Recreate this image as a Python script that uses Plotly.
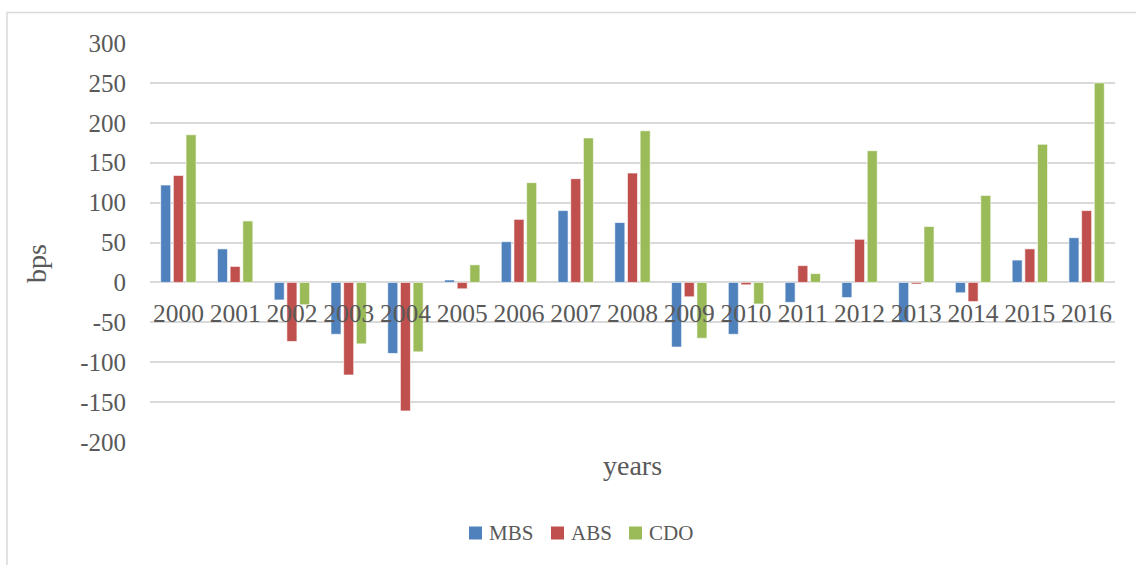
import plotly.graph_objects as go

# Spread changes by year (basis points)
years = [str(y) for y in range(2000, 2017)]
mbs = [122, 42, -22, -65, -89, 3, 51, 90, 75, -81, -65, -25, -19, -50, -13, 28, 56]
abs_ = [134, 20, -74, -116, -161, -8, 79, 130, 137, -18, -3, 21, 54, -2, -24, 42, 90]
cdo = [185, 77, -28, -77, -87, 22, 125, 181, 190, -70, -27, 11, 165, 70, 109, 173, 250]

series_names = ["MBS", "ABS", "CDO"]
series_colors = ["#4F81BD", "#C0504D", "#9BBB59"]
y_ticks = list(range(-200, 301, 50))
y_ticktext = [str(v) for v in y_ticks]  # plain hyphen for negatives

W, H = 1136, 565
M_L, M_R, M_T, M_B = 150, 21, 43, 123
plot_w = W - M_L - M_R
plot_h = H - M_T - M_B

text_color = "#595959"
grid_color = "#D9D9D9"
font_family = "Liberation Serif, Times New Roman, serif"


def px_x(px):
    """Pixel column -> paper x."""
    return (px - M_L) / plot_w


def px_y(px):
    """Pixel row -> paper y."""
    return ((H - M_B) - px) / plot_h


fig = go.Figure()
for name, vals, col in zip(series_names, [mbs, abs_, cdo], series_colors):
    fig.add_trace(go.Bar(
        x=years, y=vals, name=name, showlegend=False,
        marker=dict(color=col, line=dict(color="white", width=0.6)),
    ))

y_min, y_max = -200, 300
zero_frac = (0 - y_min) / (y_max - y_min)

fig.update_layout(
    width=W, height=H,
    margin=dict(l=M_L, r=M_R, t=M_T, b=M_B, autoexpand=False),
    paper_bgcolor="white", plot_bgcolor="white",
    barmode="group", bargap=0.33, bargroupgap=0.21,
    font=dict(family=font_family, color=text_color, size=25),
    xaxis=dict(
        type="category", anchor="free", position=zero_frac,
        showgrid=False, showline=False, automargin=False,
        ticks="outside", ticklen=8, tickcolor="rgba(0,0,0,0)",
        tickfont=dict(size=25.5, color=text_color),
    ),
    yaxis=dict(
        range=[y_min, y_max], tickvals=y_ticks, ticktext=y_ticktext,
        showgrid=True, gridcolor=grid_color, gridwidth=1.5,
        zeroline=True, zerolinecolor=grid_color, zerolinewidth=1.5,
        showline=False, automargin=False,
        ticks="outside", ticklen=18, tickcolor="rgba(0,0,0,0)",
        tickfont=dict(size=25, color=text_color),
    ),
    showlegend=False,
)

# Axis titles
fig.add_annotation(
    text="years", xref="paper", yref="paper",
    x=px_x(632), y=px_y(465),
    showarrow=False, font=dict(size=28, color=text_color),
    xanchor="center", yanchor="middle",
)
fig.add_annotation(
    text="bps", xref="paper", yref="paper",
    x=px_x(36), y=px_y(264),
    showarrow=False, textangle=-90, font=dict(size=28, color=text_color),
    xanchor="center", yanchor="middle",
)

# Legend row: colour swatch followed by series name
legend_swatch_left = [469, 551, 629]
legend_cy = 533
swatch = 13
for name, col, sx in zip(series_names, series_colors, legend_swatch_left):
    fig.add_shape(
        type="rect", xref="paper", yref="paper",
        x0=px_x(sx), x1=px_x(sx + swatch),
        y0=px_y(legend_cy + swatch / 2), y1=px_y(legend_cy - swatch / 2),
        line=dict(width=0), fillcolor=col,
    )
    fig.add_annotation(
        text=name, xref="paper", yref="paper",
        x=px_x(sx + swatch + 5), y=px_y(legend_cy),
        showarrow=False, font=dict(size=21, color=text_color),
        xanchor="left", yanchor="middle",
    )

# Chart frame
fig.add_shape(
    type="rect", xref="paper", yref="paper",
    x0=px_x(7), x1=px_x(W + 20),
    y0=px_y(H + 20), y1=px_y(12.5),
    line=dict(color=grid_color, width=1.5), fillcolor="rgba(0,0,0,0)",
    layer="below",
)

fig.write_html("out.html")
